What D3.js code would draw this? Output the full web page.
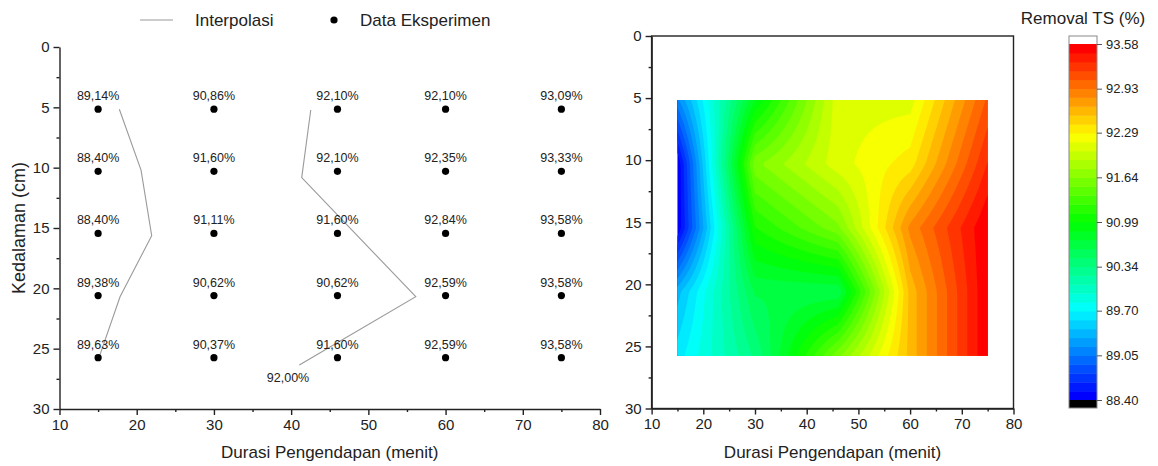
<!DOCTYPE html>
<html>
<head>
<meta charset="utf-8">
<script src="https://cdn.jsdelivr.net/npm/d3@7"></script>
<style>
  body { margin: 0; background: #fff; }
  svg { display: block; font-family: "Liberation Sans", Arial, sans-serif; }
  .axis text { font-size: 15px; fill: #222; }
  .axis path, .axis line { stroke: #222; stroke-width: 1.4; }
</style>
</head>
<body>
<script>
// measured data: columns = settling time, rows = depth
const durasi = [15, 30, 46, 60, 75]
const kedalaman = [5.15, 10.3, 15.45, 20.6, 25.75]
const removal = [
  [89.14, 90.86, 92.10, 92.10, 93.09],
  [88.40, 91.60, 92.10, 92.35, 93.33],
  [88.40, 91.11, 91.60, 92.84, 93.58],
  [89.38, 90.62, 90.62, 92.59, 93.58],
  [89.63, 90.37, 91.60, 92.59, 93.58]
]

// the two grey "Interpolasi" traces
const interp1 = [[17.75, 5.16], [20.56, 10.2], [21.94, 15.64], [17.84, 20.7], [15.16, 25.66]]
const interp2 = [[42.54, 5.22], [41.37, 10.83], [56.14, 20.69], [41.06, 26.35]]
const interp2End = [39.6, 27.45, '92,00%']

const xTicks = [10, 20, 30, 40, 50, 60, 70, 80]
const xMinor = [15, 25, 35, 45, 55, 65, 75]
const yTicks = [0, 5, 10, 15, 20, 25, 30]
const yMinor = [2.5, 7.5, 12.5, 17.5, 22.5, 27.5]
const cbTicks = [93.58, 92.93, 92.29, 91.64, 90.99, 90.34, 89.70, 89.05, 88.40]
const nLevels = 40

const w = 1158
const h = 466

const svg = d3.select('body')
  .append('svg')
  .attr('width', w)
  .attr('height', h)

svg.append('rect').attr('width', w).attr('height', h).attr('fill', '#fff')

const fmt = v => v.toFixed(2).replace('.', ',') + '%'

// ---------- left panel ----------
const x1 = d3.scaleLinear().domain([10, 80]).range([59.5, 600])
const y1 = d3.scaleLinear().domain([0, 30]).range([47, 409])

const drawAxes = (xs, ys) => {
  svg.append('g').attr('class', 'axis')
    .attr('transform', 'translate(0,' + ys(30) + ')')
    .call(d3.axisBottom(xs).tickValues(xTicks).tickSize(6).tickSizeOuter(0).tickPadding(4))
  svg.append('g').attr('class', 'axis')
    .attr('transform', 'translate(0,' + ys(30) + ')')
    .call(d3.axisBottom(xs).tickValues(xMinor).tickSize(3).tickFormat(''))
    .select('.domain').remove()
  svg.append('g').attr('class', 'axis')
    .attr('transform', 'translate(' + xs(10) + ',0)')
    .call(d3.axisLeft(ys).tickValues(yTicks).tickSize(6).tickSizeOuter(0).tickPadding(4))
  svg.append('g').attr('class', 'axis')
    .attr('transform', 'translate(' + xs(10) + ',0)')
    .call(d3.axisLeft(ys).tickValues(yMinor).tickSize(3).tickFormat(''))
    .select('.domain').remove()
  svg.append('text')
    .attr('x', (xs(10) + xs(80)) / 2)
    .attr('y', 458)
    .attr('text-anchor', 'middle')
    .attr('font-size', 17)
    .attr('fill', '#222')
    .text('Durasi Pengendapan (menit)')
}

drawAxes(x1, y1)

svg.append('text')
  .attr('transform', 'translate(25,' + (y1(0) + y1(30)) / 2 + ') rotate(-90)')
  .attr('text-anchor', 'middle')
  .attr('font-size', 18)
  .attr('fill', '#222')
  .text('Kedalaman (cm)')

const line1 = d3.line().x(d => x1(d[0])).y(d => y1(d[1]))
;[interp1, interp2].forEach(pts => {
  svg.append('path')
    .attr('d', line1(pts))
    .attr('fill', 'none')
    .attr('stroke', '#9a9a9a')
    .attr('stroke-width', 1.1)
})

svg.append('text')
  .attr('x', x1(interp2End[0]))
  .attr('y', y1(interp2End[1]) + 4)
  .attr('text-anchor', 'middle')
  .attr('font-size', 12.5)
  .attr('fill', '#222')
  .text(interp2End[2])

const points = []
kedalaman.forEach((k, r) => durasi.forEach((d, c) => points.push({d, k, v: removal[r][c]})))

svg.selectAll('circle.pt')
  .data(points)
  .enter()
  .append('circle')
  .attr('class', 'pt')
  .attr('cx', d => x1(d.d))
  .attr('cy', d => y1(d.k))
  .attr('r', 3.6)
  .attr('fill', '#000')

svg.selectAll('text.lbl')
  .data(points)
  .enter()
  .append('text')
  .attr('class', 'lbl')
  .attr('x', d => x1(d.d))
  .attr('y', d => y1(d.k) - 9)
  .attr('text-anchor', 'middle')
  .attr('font-size', 12.5)
  .attr('fill', '#222')
  .text(d => fmt(d.v))

// legend
svg.append('line')
  .attr('x1', 140).attr('x2', 173).attr('y1', 20).attr('y2', 20)
  .attr('stroke', '#9a9a9a').attr('stroke-width', 1.1)
svg.append('text').attr('x', 195).attr('y', 26).attr('font-size', 17).attr('fill', '#222').text('Interpolasi')
svg.append('circle').attr('cx', 334).attr('cy', 20).attr('r', 3.6).attr('fill', '#000')
svg.append('text').attr('x', 360).attr('y', 26).attr('font-size', 17).attr('fill', '#222').text('Data Eksperimen')

// ---------- right panel (contour) ----------
const x2 = d3.scaleLinear().domain([10, 80]).range([651.6, 1013.5])
const y2 = d3.scaleLinear().domain([0, 30]).range([36, 408.5])

const vmin = 88.40
const vmax = 93.58
const step = (vmax - vmin) / nLevels
const thresholds = d3.range(nLevels).map(i => vmin + i * step)
const rainbow = d3.scaleLinear()
  .domain([0, 0.25, 0.5, 0.75, 1])
  .range(['#0000ff', '#00ffff', '#00ff00', '#ffff00', '#ff0000'])
const levelColor = i => rainbow(i / (nLevels - 1))

// fine grid sampled from the measured 5x5 table (bilinear inside each cell)
const nx = 181
const ny = 91
const xAt = i => durasi[0] + i * (durasi[4] - durasi[0]) / (nx - 1)
const yAt = j => kedalaman[0] + j * (kedalaman[4] - kedalaman[0]) / (ny - 1)
const cellOf = (arr, v) => Math.min(arr.length - 2, Math.max(0, d3.bisectRight(arr, v) - 1))
const grid = new Array(nx * ny)
for (let j = 0; j < ny; j++) {
  const yv = yAt(j)
  const r = cellOf(kedalaman, yv)
  const ty = (yv - kedalaman[r]) / (kedalaman[r + 1] - kedalaman[r])
  for (let i = 0; i < nx; i++) {
    const xv = xAt(i)
    const c = cellOf(durasi, xv)
    const tx = (xv - durasi[c]) / (durasi[c + 1] - durasi[c])
    const a = removal[r][c] * (1 - tx) + removal[r][c + 1] * tx
    const b = removal[r + 1][c] * (1 - tx) + removal[r + 1][c + 1] * tx
    grid[j * nx + i] = a * (1 - ty) + b * ty
  }
}

const bands = d3.contours().size([nx, ny]).thresholds(thresholds)(grid)
const clamp = (v, lo, hi) => Math.max(lo, Math.min(hi, v))
const proj = d3.geoTransform({
  point: function (gx, gy) {
    const xv = clamp(xAt(gx - 0.5), durasi[0], durasi[4])
    const yv = clamp(yAt(gy - 0.5), kedalaman[0], kedalaman[4])
    this.stream.point(x2(xv), y2(yv))
  }
})
const path = d3.geoPath(proj)

// bands are nested (value >= threshold), so painting them in order leaves no gaps
svg.append('g')
  .selectAll('path')
  .data(bands)
  .enter()
  .append('path')
  .attr('d', path)
  .attr('fill', (d, i) => levelColor(i))

drawAxes(x2, y2)

svg.append('rect')
  .attr('x', x2(10)).attr('y', y2(0))
  .attr('width', x2(80) - x2(10)).attr('height', y2(30) - y2(0))
  .attr('fill', 'none').attr('stroke', '#222').attr('stroke-width', 1.4)

// ---------- colour bar ----------
const cbX = 1069
const cbW = 28
const cb = d3.scaleLinear().domain([vmin, vmax]).range([400, 44])

svg.append('g')
  .selectAll('rect')
  .data(thresholds)
  .enter()
  .append('rect')
  .attr('x', cbX)
  .attr('width', cbW)
  .attr('y', d => cb(d + step))
  .attr('height', cb(vmin) - cb(vmin + step) + 0.5)
  .attr('fill', (d, i) => levelColor(i))

svg.append('rect').attr('x', cbX).attr('y', 36).attr('width', cbW).attr('height', cb(vmax) - 36).attr('fill', '#fff')
svg.append('rect').attr('x', cbX).attr('y', cb(vmin)).attr('width', cbW).attr('height', 8).attr('fill', '#000')
svg.append('rect').attr('x', cbX).attr('y', 36).attr('width', cbW).attr('height', 372)
  .attr('fill', 'none').attr('stroke', '#888').attr('stroke-width', 1)

const cbAxis = svg.append('g').attr('class', 'axis')
  .attr('transform', 'translate(' + (cbX + cbW) + ',0)')
  .call(d3.axisRight(cb).tickValues(cbTicks).tickSize(5).tickPadding(4).tickFormat(d3.format('.2f')))
cbAxis.select('.domain').remove()
cbAxis.selectAll('text').style('font-size', '13px')
cbAxis.selectAll('line').style('stroke', '#555').style('stroke-width', 1)

svg.append('text')
  .attr('x', 1083).attr('y', 24)
  .attr('text-anchor', 'middle')
  .attr('font-size', 17)
  .attr('fill', '#222')
  .text('Removal TS (%)')
</script>
</body>
</html>
